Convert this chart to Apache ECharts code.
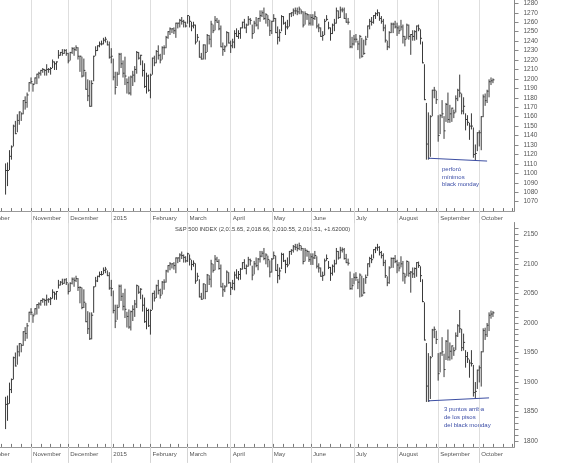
<!DOCTYPE html>
<html lang="en">
<head>
<meta charset="UTF-8">
<title>S&amp;P 500 - black monday</title>
<script src="https://cdn.jsdelivr.net/npm/echarts@6/dist/echarts.min.js"></script>
<style>
  html, body { margin: 0; padding: 0; background: #fff; }
  #main { width: 563px; height: 463px; }
</style>
</head>
<body>
<div id="main"></div>
<script>
// ---- data (daily bars, first bar 2014-10-15) ----
var firstBar = '2014-10-15';
var holidays = ['2014-11-27', '2014-12-25', '2015-01-01', '2015-01-19', '2015-02-16',
                '2015-04-03', '2015-05-25', '2015-07-03', '2015-09-07'];
var monthLabels = {
  '2014-10': 'October', '2014-11': 'November', '2014-12': 'December', '2015-01': '2015',
  '2015-02': 'February', '2015-03': 'March', '2015-04': 'April', '2015-05': 'May',
  '2015-06': 'June', '2015-07': 'July', '2015-08': 'August', '2015-09': 'September', '2015-10': 'October'
};
var titleText = 'S&P 500 INDEX (2,015.65, 2,018.66, 2,010.55, 2,016.51, +1.62000)';

// upper panel index
var topHigh = [
  1110,1111,1124,1129,1151,1155,1162,1165,1164,1177,1181,1185,1196,
  1201,1195,1201,1205,1207,1209,1211,1210,1215,1211,1212,1220,1218,1218,1230,1228,1231,1231,1231,
  1227,1228,1233,1233,1235,1233,1224,1223,1221,1207,1199,1198,1198,1224,1234,1235,1239,1240,1243,1244,1240,1239,
  1232,1221,1207,1207,1227,1227,1219,1223,1200,1202,1203,1208,1213,1229,1228,1225,1219,1216,1206,1204,
  1205,1222,1224,1230,1235,1226,1234,1235,1245,1250,1254,1253,1254,1259,1259,1263,1265,1262,1260,
  1267,1266,1260,1260,1257,1247,1240,1227,1236,1236,1247,1246,1261,1257,1266,1264,1262,1256,1238,1235,1250,1249,
  1240,1242,1251,1253,1251,1254,1260,1263,1258,1266,1264,1257,1261,1265,1264,1272,1272,1275,1269,1267,1262,
  1261,1268,1264,1255,1252,1267,1266,1260,1262,1269,1270,1274,1275,1275,1276,1273,1271,1271,1269,1268,
  1268,1268,1271,1265,1258,1254,1250,1263,1267,1260,1254,1258,1263,1275,1272,1276,1275,1275,1269,1264,1251,1244,
  1246,1247,1240,1246,1243,1241,1245,1256,1263,1265,1267,1270,1273,1270,1266,1263,1257,1240,1250,1259,1259,1261,
  1259,1256,1262,1257,1245,1258,1257,1247,1251,1251,1256,1257,1252,1239,1215,1174,1164,1161,1188,1191,1187,
  1161,1162,1177,1160,1174,1185,1172,1169,1167,1182,1189,1204,1184,1180,1163,1161,1153,1163,1148,1130,1143,
  1145,1160,1183,1184,1188,1199,1201,1200
];
var topLow = [
  1078,1087,1104,1115,1129,1142,1144,1152,1156,1163,1168,1170,1187,
  1195,1187,1195,1195,1201,1204,1207,1204,1204,1207,1205,1212,1210,1210,1222,1225,1225,1227,1225,
  1217,1220,1227,1225,1230,1221,1208,1202,1203,1189,1177,1171,1171,1198,1225,1230,1234,1236,1237,1239,1236,1222,
  1217,1199,1184,1193,1205,1212,1202,1194,1185,1184,1183,1193,1197,1206,1221,1215,1203,1191,1185,1187,
  1180,1205,1214,1217,1221,1217,1221,1226,1233,1243,1247,1249,1248,1244,1254,1255,1258,1255,1255,
  1259,1255,1251,1254,1237,1240,1223,1221,1221,1221,1229,1237,1234,1249,1252,1260,1252,1234,1225,1229,1235,1238,
  1228,1233,1233,1245,1243,1243,1254,1254,1249,1257,1258,1243,1249,1256,1253,1261,1266,1263,1259,1256,1246,
  1248,1261,1249,1237,1240,1251,1258,1247,1253,1256,1266,1267,1269,1268,1269,1269,1255,1258,1263,1257,
  1257,1257,1263,1254,1250,1245,1241,1247,1262,1253,1241,1248,1251,1259,1264,1265,1271,1264,1260,1258,1233,1233,
  1236,1239,1231,1222,1223,1226,1236,1244,1253,1257,1259,1264,1267,1262,1259,1251,1239,1231,1233,1249,1249,1254,
  1246,1248,1252,1238,1235,1243,1242,1226,1241,1241,1242,1251,1237,1217,1178,1115,1115,1118,1161,1180,1174,
  1134,1142,1159,1137,1155,1154,1154,1155,1159,1165,1177,1181,1163,1163,1146,1151,1136,1147,1117,1114,1124,
  1129,1125,1160,1172,1175,1181,1194,1196
];
var topClose = [
  1103,1103,1118,1128,1150,1142,1156,1165,1163,1177,1175,1183,1196,
  1197,1194,1201,1205,1206,1209,1210,1209,1210,1210,1211,1218,1216,1218,1225,1228,1227,1230,1227,
  1219,1228,1232,1231,1233,1224,1224,1203,1209,1189,1182,1171,1195,1224,1230,1235,1237,1237,1241,1242,1236,1223,
  1224,1202,1191,1205,1226,1216,1206,1203,1196,1185,1202,1204,1210,1228,1222,1225,1209,1192,1203,1188,
  1204,1222,1217,1229,1225,1220,1233,1233,1244,1250,1253,1253,1251,1259,1259,1262,1261,1260,1256,
  1267,1261,1256,1257,1239,1244,1223,1221,1236,1228,1246,1242,1258,1251,1262,1260,1253,1234,1231,1234,1249,1238,
  1235,1239,1248,1245,1248,1254,1260,1254,1257,1263,1262,1248,1259,1257,1264,1267,1270,1264,1268,1263,1251,
  1261,1264,1249,1244,1249,1266,1259,1255,1255,1269,1270,1272,1272,1271,1274,1271,1257,1269,1268,1259,
  1265,1264,1266,1256,1254,1245,1246,1261,1263,1254,1248,1257,1259,1272,1265,1273,1273,1264,1260,1260,1234,1237,
  1242,1242,1237,1245,1224,1227,1242,1256,1261,1260,1267,1269,1270,1264,1261,1254,1241,1234,1249,1258,1258,1255,
  1254,1251,1255,1245,1242,1257,1245,1247,1245,1250,1256,1253,1243,1217,1178,1131,1116,1160,1188,1188,1178,
  1140,1161,1163,1145,1173,1157,1163,1169,1164,1179,1188,1185,1166,1171,1157,1154,1150,1150,1120,1121,1143,
  1143,1160,1181,1177,1187,1197,1198,1199
];

// S&P 500
var spxHigh = [
  1874,1876,1898,1905,1942,1949,1961,1965,1964,1985,1992,1999,2018,
  2024,2015,2024,2031,2034,2038,2041,2040,2047,2041,2043,2056,2052,2053,2072,2070,2074,2074,2075,
  2066,2068,2076,2076,2079,2075,2061,2059,2056,2033,2019,2017,2017,2061,2077,2079,2086,2087,2093,2094,2088,2085,
  2072,2054,2030,2030,2064,2064,2050,2057,2018,2022,2020,2029,2038,2064,2062,2058,2047,2042,2025,2023,
  2022,2050,2054,2064,2072,2057,2070,2073,2089,2097,2102,2100,2102,2110,2110,2117,2120,2115,2112,
  2118,2115,2106,2105,2100,2084,2073,2050,2066,2065,2082,2080,2106,2099,2114,2111,2107,2098,2067,2063,2088,2085,
  2068,2072,2086,2090,2087,2092,2102,2107,2098,2111,2108,2096,2104,2110,2109,2121,2121,2126,2117,2113,2105,
  2109,2120,2113,2099,2093,2118,2117,2106,2110,2121,2124,2131,2133,2133,2135,2130,2126,2126,2123,2121,
  2117,2117,2121,2112,2100,2093,2086,2108,2115,2104,2094,2098,2106,2126,2121,2128,2127,2126,2116,2108,2086,2075,
  2083,2085,2074,2083,2079,2075,2081,2100,2111,2115,2124,2128,2133,2129,2121,2117,2106,2078,2095,2110,2110,2114,
  2106,2102,2112,2104,2083,2105,2103,2087,2093,2093,2102,2103,2095,2073,2034,1965,1948,1943,1989,1993,1986,
  1948,1949,1975,1947,1970,1988,1966,1961,1958,1983,1997,2021,1989,1981,1953,1950,1937,1953,1928,1899,1920,
  1927,1951,1990,1991,1999,2017,2020,2019
];
var spxLow = [
  1821,1835,1864,1882,1905,1927,1930,1944,1951,1962,1970,1974,2002,
  2014,2001,2014,2015,2025,2030,2035,2030,2030,2035,2031,2042,2040,2040,2059,2064,2065,2067,2065,
  2049,2054,2066,2062,2070,2055,2034,2024,2026,2002,1982,1972,1973,2018,2062,2070,2078,2081,2083,2085,2080,2057,
  2046,2017,1992,2006,2027,2038,2022,2009,1993,1991,1988,2004,2011,2026,2050,2041,2020,2001,1990,1994,
  1981,2023,2037,2043,2049,2042,2049,2057,2069,2086,2090,2093,2091,2085,2102,2104,2109,2103,2103,
  2104,2098,2090,2096,2067,2072,2044,2040,2041,2041,2053,2065,2061,2086,2090,2104,2091,2061,2045,2053,2062,2067,
  2048,2057,2056,2076,2073,2074,2091,2092,2083,2096,2098,2073,2083,2095,2090,2103,2112,2107,2100,2095,2078,
  2086,2109,2089,2068,2074,2092,2104,2085,2095,2100,2116,2120,2124,2122,2124,2123,2100,2105,2113,2104,
  2099,2099,2109,2093,2086,2079,2072,2081,2106,2092,2072,2081,2086,2100,2108,2110,2120,2108,2102,2098,2057,2057,
  2066,2072,2058,2044,2045,2050,2067,2080,2095,2102,2110,2119,2123,2115,2110,2097,2077,2063,2067,2094,2094,2102,
  2085,2088,2095,2071,2067,2080,2079,2052,2077,2077,2079,2094,2070,2036,1971,1867,1867,1872,1943,1975,1965,
  1903,1917,1945,1909,1938,1937,1937,1939,1945,1955,1977,1984,1953,1954,1925,1933,1908,1927,1876,1872,1889,
  1900,1893,1951,1972,1977,1987,2008,2011
];
var spxClose = [
  1862,1863,1887,1904,1941,1927,1951,1965,1962,1985,1982,1995,2018,
  2018,2012,2024,2031,2032,2038,2040,2038,2039,2040,2041,2052,2049,2053,2064,2069,2067,2073,2068,
  2053,2067,2074,2072,2075,2060,2060,2026,2035,2002,1990,1973,2013,2061,2071,2079,2082,2082,2089,2091,2080,2059,
  2058,2021,2003,2026,2062,2045,2028,2023,2011,1993,2019,2023,2032,2063,2052,2057,2030,2002,2021,1995,
  2021,2050,2042,2063,2055,2047,2069,2069,2088,2097,2100,2100,2097,2110,2110,2115,2114,2111,2105,
  2117,2108,2099,2101,2071,2079,2044,2040,2066,2053,2081,2074,2100,2089,2108,2104,2092,2061,2056,2061,2086,2068,
  2060,2067,2081,2076,2082,2091,2102,2092,2096,2107,2105,2081,2100,2097,2108,2113,2118,2109,2115,2107,2086,
  2108,2114,2089,2080,2088,2116,2105,2099,2098,2121,2123,2129,2128,2126,2131,2126,2104,2123,2121,2107,
  2112,2110,2114,2096,2093,2079,2080,2105,2109,2094,2084,2096,2100,2121,2110,2123,2124,2109,2102,2101,2058,2063,
  2077,2077,2069,2081,2047,2051,2077,2100,2109,2107,2124,2127,2128,2119,2114,2102,2080,2068,2093,2109,2109,2104,
  2098,2093,2100,2084,2078,2104,2084,2086,2083,2092,2102,2097,2080,2036,1971,1893,1868,1941,1988,1989,1972,
  1914,1949,1951,1921,1969,1942,1952,1961,1953,1978,1995,1990,1958,1967,1943,1939,1932,1931,1882,1884,1920,
  1924,1951,1987,1980,1996,2013,2015,2017
];

// trend lines drawn on the chart (date, value)
var topTrend = [['2015-08-25', 1116], ['2015-10-07', 1113]];
var spxTrend = [['2015-08-25', 1868], ['2015-10-08', 1873]];

// ---- trading day axis ----
var days = [];
var t = Date.UTC(2014, 9, 1);
while (days.length < 271) {
  var dt = new Date(t);
  var s = dt.toISOString().slice(0, 10);
  var wd = dt.getUTCDay();
  if (wd !== 0 && wd !== 6 && holidays.indexOf(s) < 0) days.push(s);
  t += 86400000;
}
function weekday(s) { return new Date(s + 'T00:00:00Z').getUTCDay(); }
var monthStart = days.map(function (s, i) { return i === 0 || s.slice(0, 7) !== days[i - 1].slice(0, 7); });
var weekStart = days.map(function (s, i) { return i === 0 || weekday(s) < weekday(days[i - 1]); });

var start = days.indexOf(firstBar);
function rows(h, l, c) {
  return h.map(function (v, i) { return [start + i, v, l[i], c[i]]; });
}

var barColor = '#3a3a3a';
function renderBar(params, api) {
  var x = api.value(0);
  var hi = api.coord([x, api.value(1)]);
  var lo = api.coord([x, api.value(2)]);
  var cl = api.coord([x, api.value(3)]);
  var st = { stroke: barColor, lineWidth: 1 };
  return {
    type: 'group',
    children: [
      { type: 'line', shape: { x1: hi[0], y1: hi[1] - 0.5, x2: lo[0], y2: lo[1] + 0.5 }, style: st },
      { type: 'line', shape: { x1: cl[0], y1: cl[1], x2: cl[0] + 1.5, y2: cl[1] }, style: st }
    ]
  };
}

var font = 'Liberation Sans, Arial, sans-serif';

function dateAxes(gridIndex, tickLen) {
  return [{
    type: 'category', gridIndex: gridIndex, data: days, boundaryGap: false,
    axisLine: { show: true, lineStyle: { color: '#999', width: 1 } },
    axisTick: { show: true, inside: true, length: 3, interval: function (i) { return weekStart[i]; },
                lineStyle: { color: '#777' } },
    axisLabel: { interval: function (i) { return monthStart[i]; },
                 formatter: function (v) { return monthLabels[v.slice(0, 7)]; },
                 align: 'left', padding: [0, 0, 0, 2], margin: 4,
                 color: '#555', fontSize: 6.1, fontFamily: font },
    splitLine: { show: true, interval: function (i) { return monthStart[i]; },
                 lineStyle: { color: '#dedede', width: 1 } }
  }, {
    type: 'category', gridIndex: gridIndex, data: days, boundaryGap: false, position: 'bottom',
    axisLine: { show: false }, axisLabel: { show: false }, splitLine: { show: false },
    axisTick: { show: true, length: tickLen, interval: function (i) { return monthStart[i]; },
                lineStyle: { color: '#d4d4d4' } }
  }];
}

function priceAxis(gridIndex, min, max, every) {
  return {
    type: 'value', gridIndex: gridIndex, position: 'right', min: min, max: max, interval: 10,
    axisLine: { show: true, lineStyle: { color: '#888' } },
    axisTick: { show: true, length: 4, lineStyle: { color: '#888' } },
    splitLine: { show: false },
    axisLabel: { showMinLabel: false, showMaxLabel: false, margin: 9, color: '#555', fontSize: 6.5,
                 fontFamily: font,
                 formatter: function (v) { return v % every === 0 ? String(v) : ''; } }
  };
}

var chart = echarts.init(document.getElementById('main'));
chart.setOption({
  animation: false,
  backgroundColor: '#fff',
  grid: [
    { left: -14, right: 48.5, top: -6.1, height: 217.2, containLabel: false, outerBoundsMode: 'none' },
    { left: -14, right: 48.5, top: 222.5, height: 224.4, containLabel: false, outerBoundsMode: 'none' }
  ],
  xAxis: dateAxes(0, 12).concat(dateAxes(1, 16)),
  yAxis: [priceAxis(0, 1060, 1290, 10), priceAxis(1, 1790, 2170, 50)],
  series: [
    { type: 'custom', xAxisIndex: 0, yAxisIndex: 0, renderItem: renderBar,
      encode: { x: 0, y: [1, 2, 3] }, data: rows(topHigh, topLow, topClose), silent: true },
    { type: 'custom', xAxisIndex: 2, yAxisIndex: 1, renderItem: renderBar,
      encode: { x: 0, y: [1, 2, 3] }, data: rows(spxHigh, spxLow, spxClose), silent: true },
    { type: 'line', xAxisIndex: 0, yAxisIndex: 0, data: topTrend, symbol: 'none', silent: true,
      lineStyle: { color: '#3d4fa3', width: 1 } },
    { type: 'line', xAxisIndex: 2, yAxisIndex: 1, data: spxTrend, symbol: 'none', silent: true,
      lineStyle: { color: '#3d4fa3', width: 1 } }
  ],
  graphic: [
    { type: 'text', left: 175, top: 226, silent: true,
      style: { text: titleText, fill: '#444', font: '5.8px Liberation Sans, Arial, sans-serif' } },
    { type: 'text', left: 442, top: 166, silent: true,
      style: { text: 'perforó\nmínimos\nblack monday', fill: '#3a4ca6', lineHeight: 7.3,
               font: '6px Liberation Sans, Arial, sans-serif' } },
    { type: 'text', left: 444, top: 406, silent: true,
      style: { text: '3 puntos arriba\nde los pisos\ndel black monday', fill: '#3a4ca6', lineHeight: 7.6,
               font: '6px Liberation Sans, Arial, sans-serif' } }
  ]
});
</script>
</body>
</html>
